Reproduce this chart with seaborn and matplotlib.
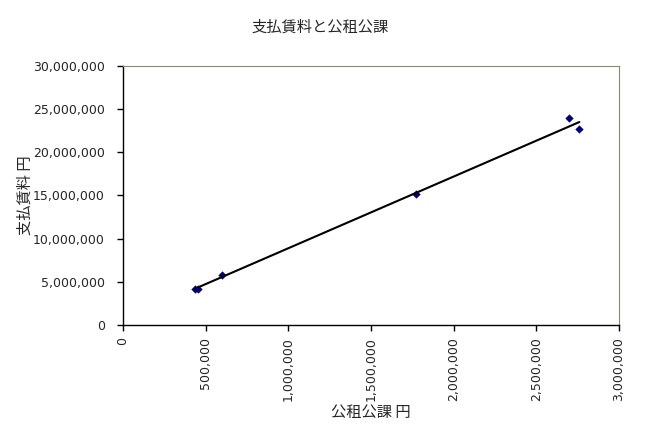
import matplotlib
matplotlib.use("Agg")
import matplotlib.pyplot as plt
import matplotlib.ticker as mticker
import seaborn as sns
import pandas as pd

# 公租公課 (x) と 支払賃料 (y), 円
koso_kouka = [435000, 453000, 600000, 1774000, 2700000, 2760000]
shiharai_chinryo = [4170000, 4170000, 5830000, 15170000, 23940000, 22670000]

df = pd.DataFrame({"公租公課": koso_kouka, "支払賃料": shiharai_chinryo})

sns.set_style("white")
plt.rcParams["font.family"] = ["Noto Sans CJK JP", "DejaVu Sans"]

fig = plt.figure(figsize=(6.45, 4.4), dpi=100)
ax = fig.add_axes([0.1907, 0.2614, 0.769, 0.5886])

sns.regplot(data=df, x="公租公課", y="支払賃料", ax=ax, ci=None, marker="D",
            scatter_kws={"color": "#000080", "s": 18, "linewidths": 0, "alpha": 1},
            line_kws={"color": "black", "linewidth": 1.5})

ax.set_xlim(0, 3000000)
ax.set_ylim(0, 30000000)
ax.set_xticks(range(0, 3000001, 500000))
ax.set_yticks(range(0, 30000001, 5000000))
fmt = mticker.FuncFormatter(lambda v, p: f"{v:,.0f}")
ax.xaxis.set_major_formatter(fmt)
ax.yaxis.set_major_formatter(fmt)
ax.tick_params(axis="both", direction="out", length=4, width=1, labelsize=9,
               color="black", left=True, bottom=True)
ax.tick_params(axis="x", labelrotation=90, pad=5)
ax.tick_params(axis="y", pad=9)
for lab in ax.get_xticklabels() + ax.get_yticklabels():
    lab.set_family("DejaVu Sans")

for s in ["left", "bottom"]:
    ax.spines[s].set_color("black")
    ax.spines[s].set_linewidth(1)
for s in ["top", "right"]:
    ax.spines[s].set_color("#8a8a6a")
    ax.spines[s].set_linewidth(0.8)

ax.set_xlabel("公租公課 円", fontsize=11, labelpad=2)
ax.set_ylabel("支払賃料 円", fontsize=11)
ax.yaxis.set_label_coords(-0.181, 0.5)
fig.suptitle("支払賃料と公租公課", fontsize=11, x=0.497, y=0.958)

fig.savefig("out.png", dpi=100)
